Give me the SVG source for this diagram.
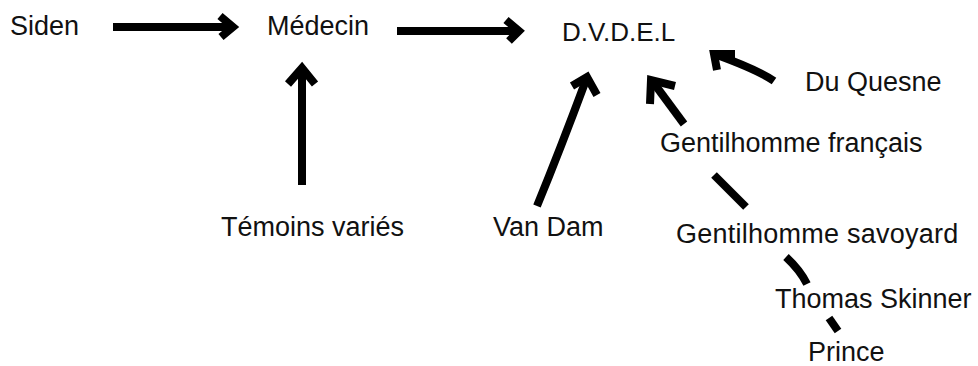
<svg xmlns="http://www.w3.org/2000/svg" width="978" height="366" viewBox="0 0 978 366">
<style>
  text { font-family: "Liberation Sans", Arial, Helvetica, sans-serif; font-size: 27px; fill: #111; }
  .c { fill: none; stroke: #000; stroke-width: 8; stroke-linecap: butt; stroke-linejoin: miter; }
  .h { fill: none; stroke: #000; stroke-width: 8; stroke-linecap: butt; stroke-linejoin: miter; stroke-miterlimit: 10; }
</style>
<rect width="978" height="366" fill="#fff"/>
<g id="connectors">
  <!-- Siden -> Médecin -->
  <line class="c" x1="113" y1="27" x2="230" y2="27"/>
  <polyline class="h" points="220,16 233,27 221,37"/>
  <!-- Médecin -> D.V.D.E.L -->
  <line class="c" x1="397" y1="31" x2="516" y2="31"/>
  <polyline class="h" points="506,20 519,31 509,41"/>
  <!-- Témoins variés -> Médecin -->
  <line class="c" x1="302" y1="185" x2="302" y2="70"/>
  <polyline class="h" points="288,84 302,68 315,84"/>
  <!-- Van Dam -> D.V.D.E.L -->
  <path class="c" d="M537,206 Q560,150 586,80"/>
  <polyline class="h" points="572,86 587,77 597,95"/>
  <!-- Gentilhomme français -> D.V.D.E.L -->
  <line class="c" x1="684" y1="124" x2="653" y2="82"/>
  <polyline class="h" points="650,104 651,80 675,86"/>
  <!-- Du Quesne -> D.V.D.E.L -->
  <path class="c" d="M774,81 Q758,70 717,55"/>
  <polyline class="h" points="717,70 714,54 735,54"/>
  <!-- Gentilhomme savoyard - Gentilhomme français -->
  <line class="c" x1="714" y1="175" x2="746" y2="207"/>
  <!-- Thomas Skinner - Gentilhomme savoyard -->
  <path class="c" d="M786,257 Q800,270 807,284"/>
  <!-- Prince - Thomas Skinner -->
  <line class="c" x1="829" y1="318" x2="838" y2="331"/>
</g>
<g id="siden"><text x="10" y="35">Siden</text></g>
<g id="medecin"><text x="267" y="35">Médecin</text></g>
<g id="dvdel"><text x="562" y="41" style="font-size:26px">D.V.D.E.L</text></g>
<g id="du-quesne"><text x="805" y="91">Du Quesne</text></g>
<g id="gentilhomme-francais"><text x="660" y="152">Gentilhomme français</text></g>
<g id="temoins-varies"><text x="221" y="236">Témoins variés</text></g>
<g id="van-dam"><text x="493" y="236">Van Dam</text></g>
<g id="gentilhomme-savoyard"><text x="676" y="243" style="letter-spacing:0.25px">Gentilhomme savoyard</text></g>
<g id="thomas-skinner"><text x="775" y="308">Thomas Skinner</text></g>
<g id="prince"><text x="808" y="361">Prince</text></g>
</svg>
